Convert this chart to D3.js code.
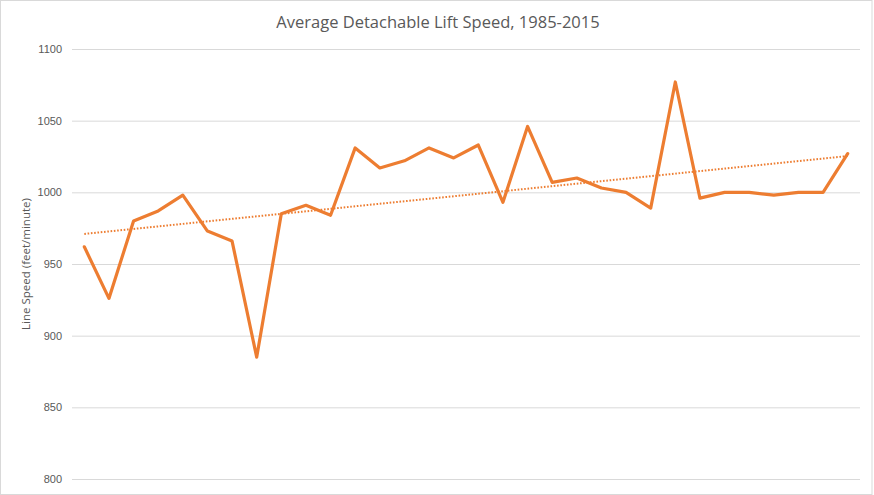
<!DOCTYPE html>
<html>
<head>
<meta charset="utf-8">
<script src="https://cdn.jsdelivr.net/npm/d3@7"></script>
<style>
  body { margin: 0; background: #fff; }
  svg { display: block; font-family: "Open Sans", "Liberation Sans", sans-serif; }
</style>
</head>
<body>
<svg id="chart" width="874" height="495"></svg>
<script>
// years on the category axis (axis labels are not shown in the chart)
const years = d3.range(1984, 2016);

// average line speed, feet/minute
const speeds = [962, 926, 980, 987, 998, 973, 966, 885, 985, 991, 984, 1031,
    1017, 1022, 1031, 1024, 1033, 993, 1046, 1007, 1010, 1003, 1000, 989,
    1077, 996, 1000, 1000, 998, 1000, 1000, 1027];

const yTicks = [800, 850, 900, 950, 1000, 1050, 1100];

const titleText = "Average Detachable Lift Speed, 1985-2015";
const yLabel = "Line Speed  (feet/minute)";

function linearTrend(xs, ys) {
    const n = xs.length;
    const mx = d3.mean(xs);
    const my = d3.mean(ys);
    let sxy = 0, sxx = 0;
    for (let i = 0; i < n; i++) {
        sxy += (xs[i] - mx) * (ys[i] - my);
        sxx += (xs[i] - mx) * (xs[i] - mx);
    }
    const slope = sxy / sxx;
    return x => my + slope * (x - mx);
}

function drawChart(svgId) {
    const svg = d3.select(`#${svgId}`);
    const width = +svg.attr("width");
    const height = +svg.attr("height");

    const left = 72, right = 860, top = 49, bottom = 479;

    // outer chart border
    svg.append("rect")
        .attr("x", 0.5).attr("y", 0.5)
        .attr("width", width - 2.5).attr("height", height - 1)
        .style("fill", "#fff")
        .style("stroke", "#d9d9d9");

    const xScale = d3.scaleBand()
        .domain(years)
        .range([left, right]);

    const yScale = d3.scaleLinear()
        .domain([800, 1100])
        .range([bottom, top]);

    const xc = d => xScale(d) + xScale.bandwidth() / 2;

    // gridlines + tick labels
    const yAxis = d3.axisLeft(yScale)
        .tickValues(yTicks)
        .tickSize(-(right - left))
        .tickPadding(10)
        .tickFormat(d3.format("d"));

    const g = svg.append("g")
        .attr("transform", `translate(${left},0)`)
        .call(yAxis);
    g.select(".domain").remove();
    g.selectAll(".tick line")
        .style("stroke", "#d9d9d9")
        .style("stroke-width", 1);
    g.selectAll(".tick text")
        .style("fill", "#595959")
        .style("font-size", "11px");

    // trendline (least squares over the series)
    const idx = years.map((d, i) => i);
    const trend = linearTrend(idx, speeds);
    svg.append("line")
        .attr("x1", xc(years[0]))
        .attr("y1", yScale(trend(0)))
        .attr("x2", xc(years[years.length - 1]))
        .attr("y2", yScale(trend(years.length - 1)))
        .style("stroke", "#ED7D31")
        .style("stroke-width", 2)
        .style("stroke-dasharray", "1.6 1.7");

    const line = d3.line()
        .x((d, i) => xc(years[i]))
        .y(d => yScale(d));

    svg.append("path")
        .datum(speeds)
        .attr("d", line)
        .style("fill", "none")
        .style("stroke", "#ED7D31")
        .style("stroke-width", 3.2)
        .style("stroke-linejoin", "round")
        .style("stroke-linecap", "round");

    svg.append("text")
        .attr("x", 438)
        .attr("y", 28)
        .attr("text-anchor", "middle")
        .style("font-size", "16.5px")
        .style("fill", "#595959")
        .text(titleText);

    svg.append("text")
        .attr("transform", `translate(30,${(top + bottom) / 2}) rotate(-90)`)
        .attr("text-anchor", "middle")
        .style("font-size", "11.5px")
        .style("fill", "#595959")
        .text(yLabel);
}

drawChart("chart");
</script>
</body>
</html>
